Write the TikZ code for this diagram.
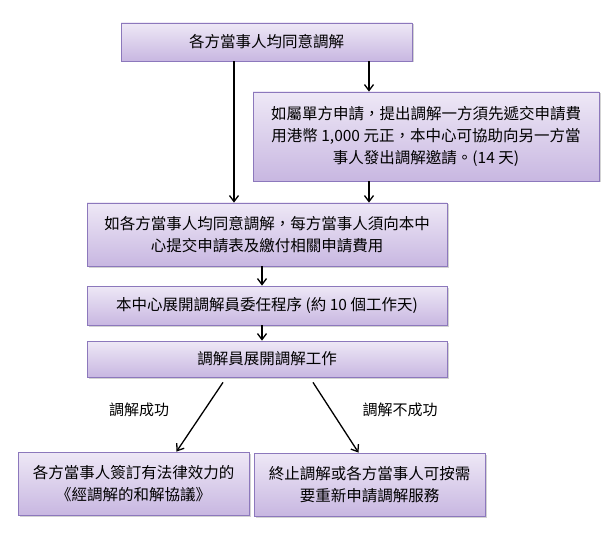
\documentclass[tikz,border=0pt]{standalone}
\usepackage{fontspec}
\setmainfont{Noto Sans CJK TC}
\usetikzlibrary{arrows.meta,shadows}

\definecolor{boxtop}{HTML}{EEE8F6}
\definecolor{boxbot}{HTML}{C8B7E1}
\definecolor{boxline}{HTML}{8C78BC}

\tikzset{
  stepbox/.style={draw=boxline, line width=0.8pt, top color=boxtop, bottom color=boxbot,
    drop shadow={shadow xshift=1.5pt, shadow yshift=-1.5pt, opacity=0.35},
    inner sep=0pt, align=center, font=\fontsize{15.5}{22}\selectfont},
  arr/.style={-{Straight Barb[length=6pt,width=9pt]}, line width=1.3pt},
  lbl/.style={font=\fontsize{15}{18}\selectfont}
}

\begin{document}
\begin{tikzpicture}[x=1pt,y=-1pt]
\useasboundingbox (0,0) rectangle (612,537);

\node[stepbox, minimum width=291pt, minimum height=38pt] (agree) at (266.5,42) {各方當事人均同意調解};
\node[stepbox, minimum width=346pt, minimum height=89pt] (single) at (426,136.5)
  {如屬單方申請，提出調解一方須先遞交申請費\\用港幣 1,000 元正，本中心可協助向另一方當\\事人發出調解邀請。(14 天)};
\node[stepbox, minimum width=360pt, minimum height=63pt] (apply) at (267,234.5)
  {如各方當事人均同意調解，每方當事人須向本中\\心提交申請表及繳付相關申請費用};
\node[stepbox, minimum width=360pt, minimum height=39pt] (appoint) at (267,305.5) {本中心展開調解員委任程序 (約 10 個工作天)};
\node[stepbox, minimum width=360pt, minimum height=36pt] (work) at (267,359) {調解員展開調解工作};
\node[stepbox, minimum width=231pt, minimum height=63pt] (settle) at (133.5,483.5)
  {各方當事人簽訂有法律效力的\\《經調解的和解協議》};
\node[stepbox, minimum width=231pt, minimum height=63pt] (stop) at (369.5,484.5)
  {終止調解或各方當事人可按需\\要重新申請調解服務};

\node[lbl] (ok) at (139,410) {調解成功};
\node[lbl] (fail) at (400,410) {調解不成功};

\coordinate (lane1) at (234,0);
\coordinate (lane2) at (369,0);
\coordinate (lane3) at (262,0);

\draw[arr] (lane1 |- agree.south) -- (lane1 |- apply.north);
\draw[arr] (lane2 |- agree.south) -- (lane2 |- single.north);
\draw[arr] (lane2 |- single.south) -- (lane2 |- apply.north);
\draw[arr] (lane3 |- apply.south) -- (lane3 |- appoint.north);
\draw[arr] (lane3 |- appoint.south) -- (lane3 |- work.north);
\draw[arr] ([xshift=-44pt,yshift=-5pt]work.south) -- ([xshift=43pt]settle.north);
\draw[arr] ([xshift=46pt,yshift=-5pt]work.south) -- ([xshift=-11pt]stop.north);

\end{tikzpicture}
\end{document}
